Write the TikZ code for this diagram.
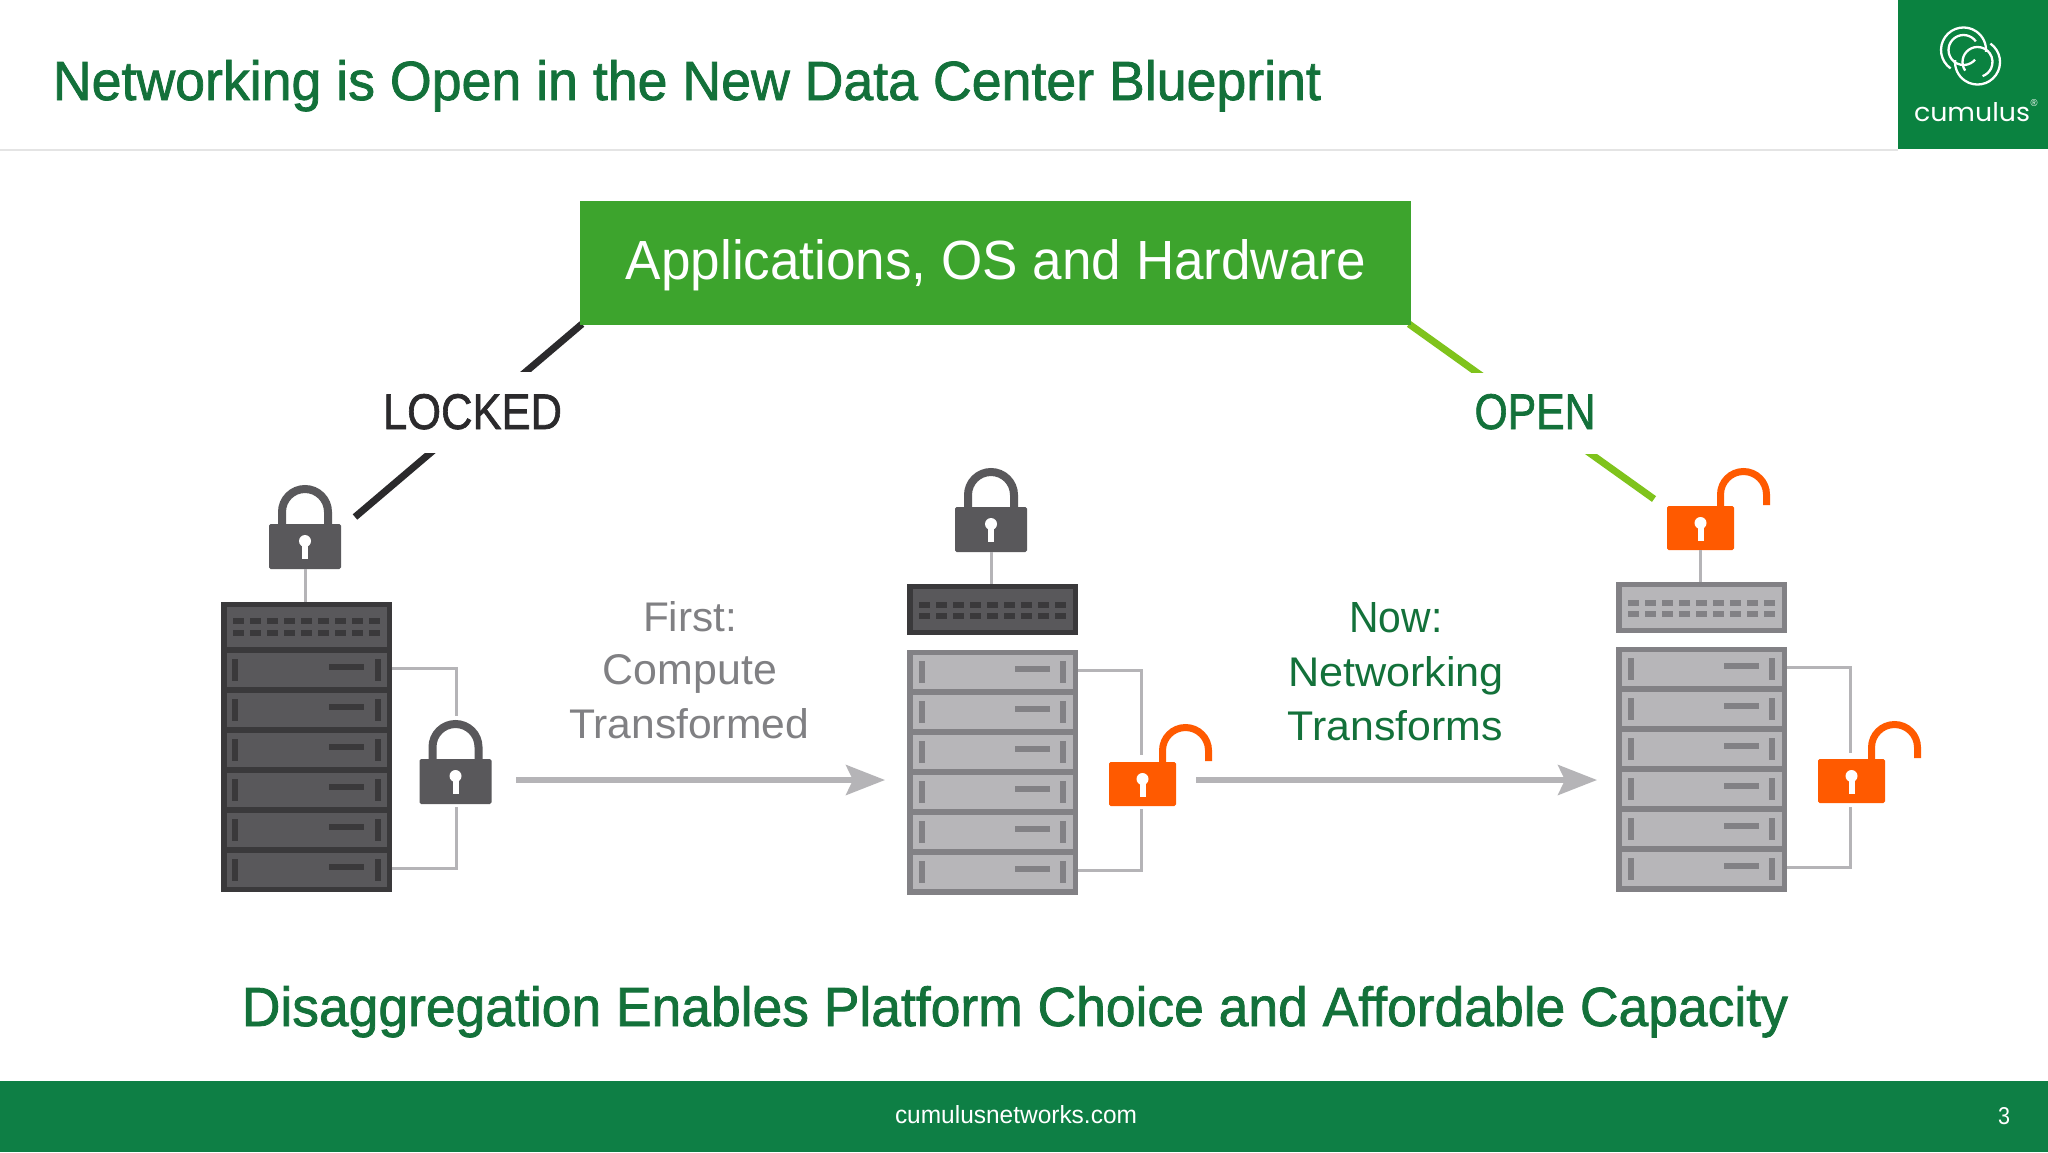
\documentclass[tikz,border=0pt]{standalone}
\usepackage{fontspec}
\usepackage{graphicx}
\usetikzlibrary{arrows.meta,calc}
\setmainfont{Liberation Sans}
\newfontfamily\heavyfont[FakeBold=1.4]{Liberation Sans}
\newfontfamily\logofont{Poppins}
\definecolor{titlegreen}{HTML}{13713A}
\definecolor{footgreen}{HTML}{0E7F45}
\definecolor{logogreen}{HTML}{0A8240}
\definecolor{boxgreen}{HTML}{3DA42D}
\definecolor{lime}{HTML}{7FC31C}
\definecolor{inkdark}{HTML}{2B2A2C}
\definecolor{rackdark}{HTML}{3A393B}
\definecolor{bladedark}{HTML}{59585B}
\definecolor{rackgrey}{HTML}{828185}
\definecolor{bladegrey}{HTML}{B7B6B9}
\definecolor{wiregrey}{HTML}{B5B4B7}
\definecolor{textgrey}{HTML}{808083}
\definecolor{lockorange}{HTML}{FF5A00}
\definecolor{rulegrey}{HTML}{E4E4E4}
\tikzset{
  plate/.style={inner sep=0pt,outer sep=0pt,draw=none,anchor=north west},
  txt/.style={inner sep=0pt,outer sep=0pt,anchor=base},
  wire/.style={draw=wiregrey,line width=1.5pt},
  flow/.style={draw=wiregrey,line width=2.7pt,-{Stealth[length=19.5pt,width=15pt,inset=3.5pt]}},
  lockbody/.style={inner sep=0pt,outer sep=0pt,draw=none,rounded corners=0.8pt},
  leader/.style={line width=3.5pt},
  tag/.style={fill=white,inner sep=0pt,outer sep=0pt,minimum height=40.5pt,minimum width=125pt,anchor=center}
}
% #1 name, #2 centre x, #3 baseline y, #4 width px, #5 height px, #6 colour, #7 font, #8 text
\newcommand\fittext[8]{\node[txt,text=#6] (#1) at (#2,#3) {\resizebox{\dimexpr #4pt/2\relax}{\dimexpr #5pt/2\relax}{#7#8}};}
% #1 name, #2 x, #3 y of frame top, #4 frame col, #5 blade col, #6 frame height px
\newcommand\bladestack[6]{%
  \node[plate,fill=#4,minimum width=85.5pt,minimum height=#6*0.5pt] (#1) at (#2,#3) {};
  \foreach \i [evaluate=\i as \yy using {#3+#6-240+\i*40}] in {0,...,5} {%
    \node[plate,fill=#5,minimum width=80pt,minimum height=17pt] (#1b\i) at ({#2+5.5},{\yy}) {};
    \fill[#4] ({#2+12},{\yy+6}) rectangle ({#2+18},{\yy+28});
    \fill[#4] ({#2+153},{\yy+6}) rectangle ({#2+159},{\yy+28});
    \fill[#4] ({#2+108},{\yy+11}) rectangle ({#2+143},{\yy+17});
  }}
% #1 name, #2 x, #3 y of plate top, #4 frame, #5 inner, #6 ports, #7 outer height
\newcommand\portplate[7]{%
  \node[plate,fill=#4,minimum width=85.5pt,minimum height=#7*0.5pt] (#1) at (#2,#3) {};
  \node[plate,fill=#5,minimum width=80pt,minimum height=20.5pt] (#1i) at ({#2+5.5},{#3+5}) {};
  \foreach \j in {0,...,8} {%
    \fill[#6] ({#2+12+\j*17},{#3+18}) rectangle ({#2+23+\j*17},{#3+24});
    \fill[#6] ({#2+12+\j*17},{#3+29}) rectangle ({#2+23+\j*17},{#3+35});
  }}
\newcommand\keyhole[2]{%
  \fill[white] (#1,{#2+17}) circle[radius=3pt];
  \fill[white] ({#1-3},{#2+17}) rectangle ({#1+3},{#2+35});}
% #1 name, #2 centre x, #3 body top
\newcommand\shutlock[3]{%
  \draw[bladedark,line width=4pt] ({#2-23},{#3+1}) -- ({#2-23},{#3-12}) arc[start angle=180,end angle=0,radius=11.5pt] -- ({#2+23},{#3+1});
  \node[lockbody,fill=bladedark,minimum width=36pt,minimum height=22.5pt] (#1) at (#2,{#3+22.5}) {};
  \keyhole{#2}{#3}}
\newcommand\openlock[3]{%
  \draw[lockorange,line width=3.5pt] ({#2+20},{#3+1}) -- ({#2+20},{#3-11.5}) arc[start angle=180,end angle=0,radius=11.5pt] -- ({#2+66},{#3-1});
  \node[lockbody,fill=lockorange,minimum width=33.5pt,minimum height=22pt] (#1) at (#2,{#3+22}) {};
  \keyhole{#2}{#3}}
\begin{document}
\begin{tikzpicture}[x=0.5pt,y=-0.5pt]
\useasboundingbox (0,0) rectangle (2048,1152);
\fill[white] (0,0) rectangle (2048,1152);
% header and footer
\coordinate (ruleL) at (0,149.5);
\coordinate (ruleR) at (1898,149.5);
\draw[rulegrey,line width=1pt] (ruleL) -- (ruleR);
\node[plate,fill=logogreen,minimum width=75pt,minimum height=74.5pt] (logo) at (1898,0) {};
\node[plate,fill=footgreen,minimum width=1024pt,minimum height=35.5pt] (foot) at (0,1081) {};
\begin{scope}[white,line width=1.15pt]
  \draw (1963.5,50) ++(-12.9,18.4) arc[start angle=235,end angle=-5,radius=11.25pt];
  \draw (1963.5,50) ++(12.3,-8.6) arc[start angle=35,end angle=320,radius=7.5pt];
  \draw (1977.5,62) ++(12.9,-18.4) arc[start angle=55,end angle=-185,radius=11.25pt];
  \draw (1977.5,62) ++(-12.3,8.6) arc[start angle=215,end angle=-70,radius=7.5pt];
\end{scope}
\fittext{logotext}{1972}{121}{116}{19}{white}{\logofont}{cumulus}
\fittext{logomark}{2034}{106}{7}{7}{white}{}{®}
\fittext{title}{687}{100}{1268}{40}{titlegreen}{\heavyfont}{Networking is Open in the New Data Center Blueprint}
\fittext{url}{1016}{1123}{242}{18}{white}{}{cumulusnetworks.com}
\fittext{pagenum}{2004}{1124}{12}{17}{white}{}{3}
% top box and leaders
\node[plate,fill=boxgreen,minimum width=415.5pt,minimum height=62pt] (stack) at (580,201) {};
\coordinate (lockedend) at (355,517);
\coordinate (openend) at (1654,499);
\draw[inkdark,leader] ($(stack.south west)+(1pt,0.5pt)$) -- (lockedend);
\draw[lime,leader] ($(stack.south east)+(-1pt,0.5pt)$) -- (openend);
\node[plate,fill=boxgreen,minimum width=415.5pt,minimum height=62pt] (stacktop) at (580,201) {};
\fittext{stacktext}{996}{279}{740}{40}{white}{}{Applications, OS and Hardware}
\node[tag] (lockedgap) at (473,412.5) {};
\node[tag] (opengap) at (1535,413.5) {};
\fittext{locked}{472.5}{429}{179}{35}{inkdark}{\heavyfont}{LOCKED}
\fittext{open}{1535}{429}{121}{35}{titlegreen}{\heavyfont}{OPEN}
% rack 1
\node[plate,fill=rackdark,minimum width=85.5pt,minimum height=145pt] (rack1) at (221,602) {};
\node[plate,fill=bladedark,minimum width=80pt,minimum height=20pt] (rack1top) at (226.5,607) {};
\foreach \j in {0,...,8} {
  \fill[rackdark] ({233+\j*17},618) rectangle ({244+\j*17},624);
  \fill[rackdark] ({233+\j*17},630) rectangle ({244+\j*17},636);
}
\foreach \i [evaluate=\i as \yy using {653+\i*40}] in {0,...,5} {
  \node[plate,fill=bladedark,minimum width=80pt,minimum height=17pt] (rack1b\i) at (226.5,\yy) {};
  \fill[rackdark] (232,{\yy+6}) rectangle (238,{\yy+28});
  \fill[rackdark] (375,{\yy+6}) rectangle (381,{\yy+28});
  \fill[rackdark] (329,{\yy+11}) rectangle (364,{\yy+17});
}
% rack 2
\portplate{sw2}{907}{584}{rackdark}{bladedark}{rackdark}{51}
\bladestack{rack2}{907}{650}{rackgrey}{bladegrey}{245}
% rack 3
\portplate{sw3}{1616}{582}{rackgrey}{bladegrey}{rackgrey}{51}
\bladestack{rack3}{1616}{647}{rackgrey}{bladegrey}{245}
% locks
\shutlock{lockA}{305}{524}
\shutlock{lockB}{455.5}{759}
\shutlock{lockC}{991}{507}
\openlock{lockD}{1142.5}{762}
\openlock{lockE}{1700.5}{506}
\openlock{lockF}{1851.5}{759}
% wires
\draw[wire] (lockA.south) -- (lockA.south |- rack1.north);
\draw[wire] (lockC.south) -- (lockC.south |- sw2.north);
\draw[wire] (lockE.south) -- (lockE.south |- sw3.north);
\coordinate (a1) at (456,716); \coordinate (a2) at (456,807);
\coordinate (b1) at (1141,755); \coordinate (b2) at (1141,809);
\coordinate (c1) at (1850,753); \coordinate (c2) at (1850,807);
\draw[wire] ([yshift=1pt]rack1b0.center -| rack1.east) -| (a1);
\draw[wire] (a2) |- ([yshift=1pt]rack1b5.center -| rack1.east);
\draw[wire] ([yshift=1pt]rack2b0.center -| rack2.east) -| (b1);
\draw[wire] (b2) |- ([yshift=1pt]rack2b5.center -| rack2.east);
\draw[wire] ([yshift=1pt]rack3b0.center -| rack3.east) -| (c1);
\draw[wire] (c2) |- ([yshift=1pt]rack3b5.center -| rack3.east);
% flow arrows
\coordinate (f1a) at (516,780); \coordinate (f1b) at (885,780);
\coordinate (f2a) at (1196,780); \coordinate (f2b) at (1597,780);
\draw[flow] (f1a) -- (f1b);
\draw[flow] (f2a) -- (f2b);
\fittext{first1}{690}{631}{94}{30}{textgrey}{}{First:}
\fittext{first2}{690}{684}{174}{30}{textgrey}{}{Compute}
\fittext{first3}{689}{738}{240}{30}{textgrey}{}{Transformed}
\fittext{now1}{1396}{632}{93}{30}{titlegreen}{}{Now:}
\fittext{now2}{1396}{686}{216}{30}{titlegreen}{}{Networking}
\fittext{now3}{1395}{740}{215}{30}{titlegreen}{}{Transforms}
\fittext{closing}{1015}{1026}{1546}{40}{titlegreen}{\heavyfont}{Disaggregation Enables Platform Choice and Affordable Capacity}
\end{tikzpicture}
\end{document}
